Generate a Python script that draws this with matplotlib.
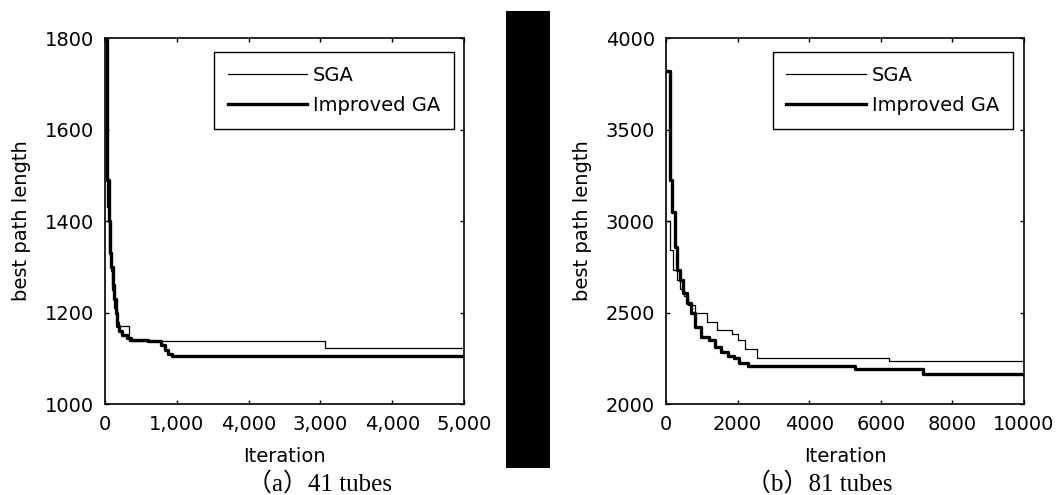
import matplotlib
matplotlib.use('Agg')
import matplotlib.pyplot as plt
from matplotlib.patches import Rectangle

# (a) 41 tubes  -- best path length over iterations
iter_a_sga = [0, 30, 60, 80, 100, 130, 160, 190, 330, 3060, 5000]
len_a_sga = [1800, 1430, 1330, 1290, 1250, 1210, 1180, 1170, 1138, 1122, 1122]

iter_a_imp = [0, 25, 50, 70, 90, 110, 130, 150, 170, 200, 240, 300, 360, 600, 780, 830, 880, 930, 5000]
len_a_imp = [1800, 1490, 1400, 1330, 1300, 1260, 1230, 1200, 1170, 1160, 1150, 1145, 1141, 1138, 1130, 1118, 1110, 1105, 1105]

xticks_a = [0, 1000, 2000, 3000, 4000, 5000]
xticklabels_a = ['0', '1,000', '4,000', '3,000', '4,000', '5,000']   # as printed in the figure
yticks_a = [1000, 1200, 1400, 1600, 1800]

# (b) 81 tubes
iter_b_sga = [0, 100, 200, 300, 400, 500, 620, 810, 1140, 1420, 1840, 2000, 2200, 2540, 6230, 10000]
len_b_sga = [3000, 2840, 2730, 2680, 2630, 2590, 2540, 2497, 2448, 2404, 2380, 2350, 2300, 2251, 2237, 2237]

iter_b_imp = [0, 120, 180, 240, 320, 400, 480, 580, 700, 820, 980, 1200, 1380, 1540, 1730, 1900, 2050, 2300, 5280, 7180, 10000]
len_b_imp = [3820, 3224, 3049, 2858, 2732, 2680, 2607, 2550, 2497, 2420, 2366, 2350, 2310, 2284, 2265, 2251, 2224, 2209, 2191, 2164, 2164]

xticks_b = [0, 2000, 4000, 6000, 8000, 10000]
yticks_b = [2000, 2500, 3000, 3500, 4000]

plt.rcParams['font.family'] = 'DejaVu Sans'
plt.rcParams['font.size'] = 14

fig = plt.figure(figsize=(10.63, 4.95), dpi=100)
ax_a = fig.add_axes([0.0988, 0.1838, 0.3377, 0.7394])
ax_b = fig.add_axes([0.6265, 0.1838, 0.3368, 0.7394])


def dibujar(ax, it_s, val_s, it_i, val_i, xt, yt, xlim, ylim, leg_x):
    ax.plot(it_s, val_s, drawstyle='steps-post', color='black', linewidth=0.9, label='SGA')
    ax.plot(it_i, val_i, drawstyle='steps-post', color='black', linewidth=2.4, label='Improved GA')
    ax.set_xlim(xlim)
    ax.set_ylim(ylim)
    ax.set_xticks(xt)
    ax.set_yticks(yt)
    ax.tick_params(direction='in', length=3, width=1, top=True, right=True, pad=8)
    for s in ax.spines.values():
        s.set_linewidth(1.2)
    ax.set_xlabel('Iteration', labelpad=9)
    ax.set_ylabel('best path length', labelpad=10)
    leg = ax.legend(loc='upper right', bbox_to_anchor=(leg_x, 0.962), borderaxespad=0,
                    fancybox=False, framealpha=1, edgecolor='black', handlelength=4.1,
                    handletextpad=0.3, labelspacing=0.6, borderpad=0.7)
    leg.get_frame().set_linewidth(1.0)


dibujar(ax_a, iter_a_sga, len_a_sga, iter_a_imp, len_a_imp, xticks_a, yticks_a, (0, 5000), (1000, 1800), 0.972)
ax_a.set_xticklabels(xticklabels_a)
dibujar(ax_b, iter_b_sga, len_b_sga, iter_b_imp, len_b_imp, xticks_b, yticks_b, (0, 10000), (2000, 4000), 0.969)

# captions under each panel
cap_font = ['Liberation Serif', 'Noto Sans CJK SC']
fig.text(0.301, 0.022, '（a）41 tubes', ha='center', va='center', fontsize=18, family=cap_font)
fig.text(0.771, 0.022, '（b）81 tubes', ha='center', va='center', fontsize=18, family=cap_font)

# black bar between the two panels
fig.patches.append(Rectangle((0.476, 0.0545), 0.0414, 0.923, transform=fig.transFigure,
                             facecolor='black', edgecolor='none'))

fig.savefig('out.png', dpi=100)
